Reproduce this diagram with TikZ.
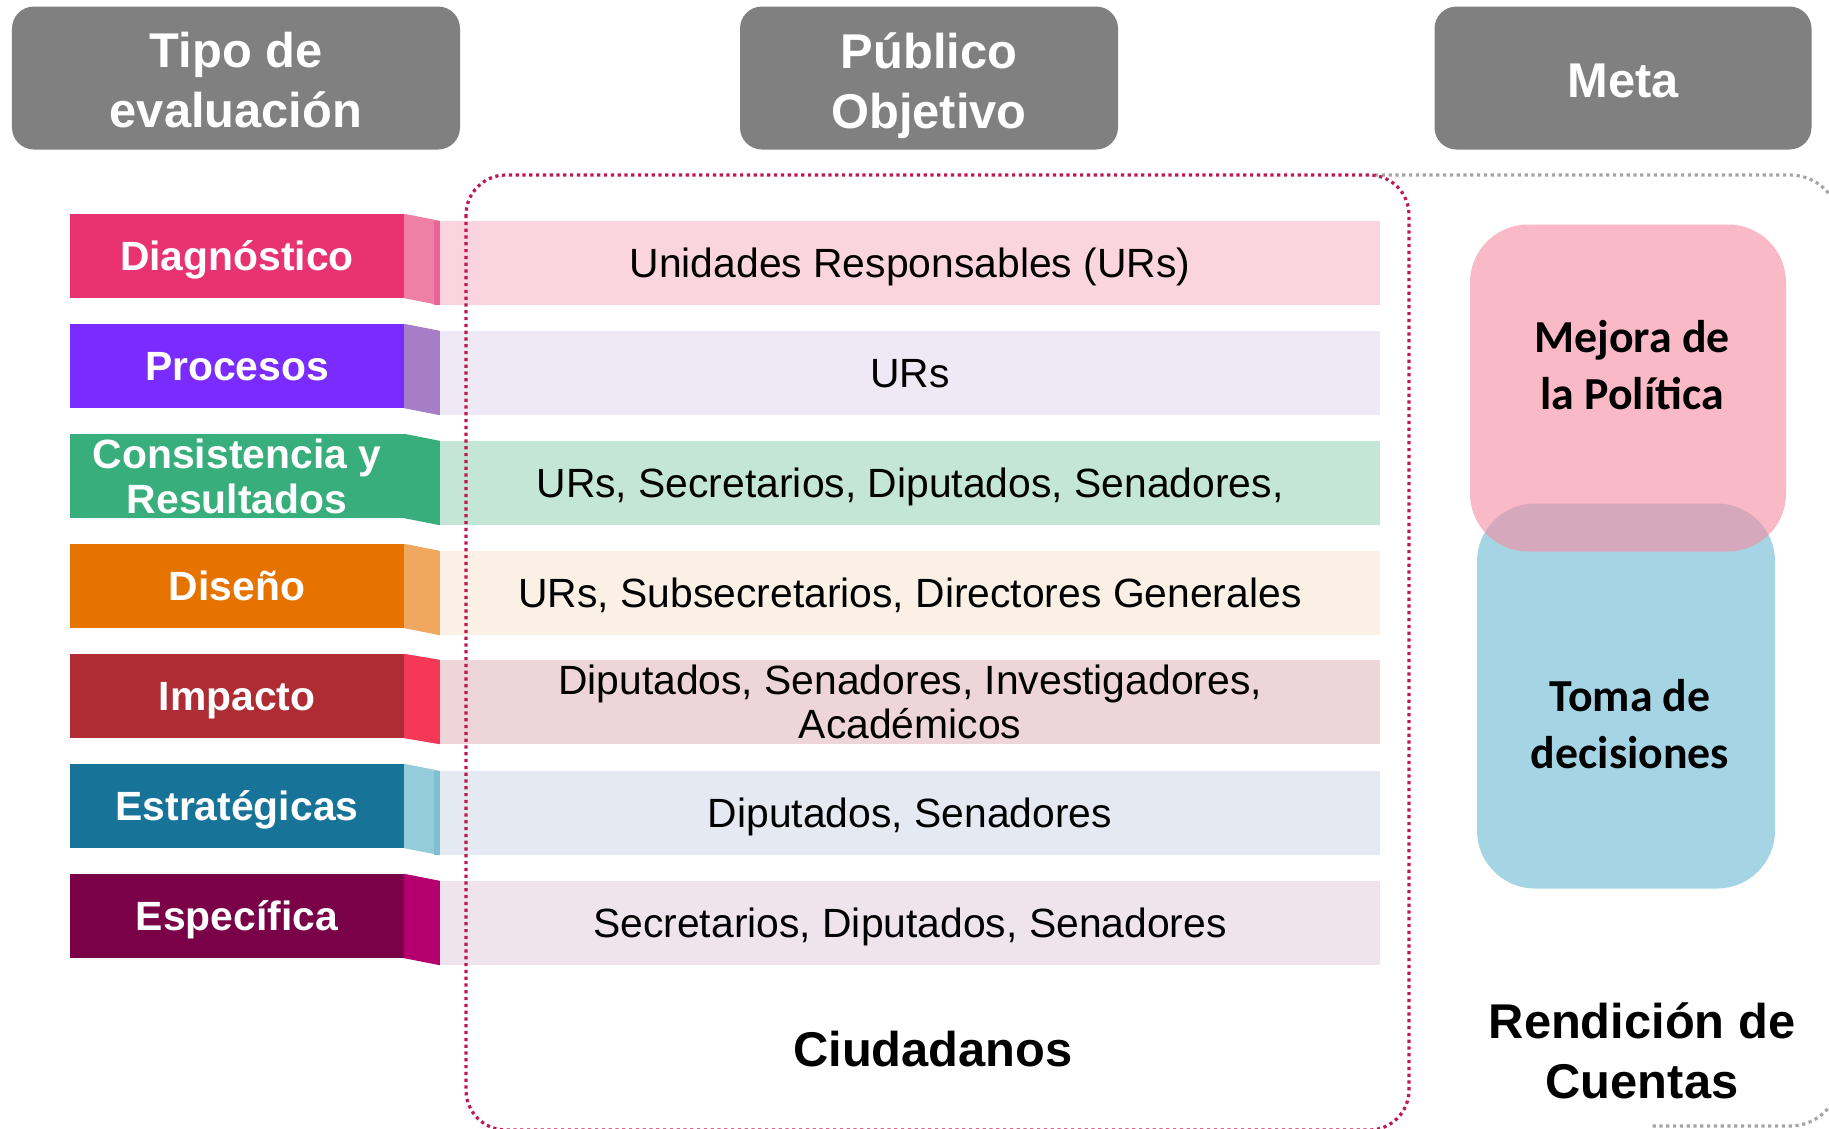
\documentclass[tikz,border=0pt]{standalone}
\usepackage{fontspec}
\setmainfont{Liberation Sans}
\newfontfamily\calib{Carlito}
\usetikzlibrary{calc}
\definecolor{hdrgray}{RGB}{128,128,128}
\definecolor{dotred}{RGB}{192,24,78}
\definecolor{dotgray}{RGB}{165,165,165}
% label / fold / bar colours
\definecolor{l1}{RGB}{232,51,112}\definecolor{f1}{RGB}{238,128,166}\definecolor{b1}{RGB}{250,213,224}\definecolor{s1}{RGB}{232,100,150}
\definecolor{l2}{RGB}{122,44,255}\definecolor{f2}{RGB}{166,126,200}\definecolor{b2}{RGB}{239,233,245}
\definecolor{l3}{RGB}{56,174,124}\definecolor{f3}{RGB}{56,174,124}\definecolor{b3}{RGB}{196,230,214}
\definecolor{l4}{RGB}{230,114,0}\definecolor{f4}{RGB}{240,168,96}\definecolor{b4}{RGB}{250,240,229}
\definecolor{l5}{RGB}{176,44,52}\definecolor{f5}{RGB}{245,56,86}\definecolor{b5}{RGB}{238,213,217}
\definecolor{l6}{RGB}{24,115,152}\definecolor{f6}{RGB}{148,204,220}\definecolor{b6}{RGB}{228,233,242}\definecolor{s6}{RGB}{128,190,210}
\definecolor{l7}{RGB}{122,0,72}\definecolor{f7}{RGB}{180,0,110}\definecolor{b7}{RGB}{240,228,236}
\definecolor{pinkM}{RGB}{247,138,160}
\definecolor{blueM}{RGB}{165,213,228}
\begin{document}
\begin{tikzpicture}[x=1bp,y=-1bp,
  hdrbox/.style={fill=hdrgray, rounded corners=22bp, minimum height=143bp, inner sep=0},
  hdrtxt/.style={inner sep=0, text=white, font=\bfseries\fontsize{49}{60}\selectfont, align=center},
  lab/.style={minimum width=334bp, minimum height=84bp, inner sep=0, text=white,
    font=\bfseries\fontsize{41}{45}\selectfont, align=center},
  oneline/.style={text height=29.5bp, text depth=0.5bp},
  bar/.style={minimum width=940bp, minimum height=84bp, inner sep=0,
    font=\fontsize{41}{44}\selectfont, align=center},
  bigtxt/.style={inner sep=0, font=\bfseries\fontsize{49}{60}\selectfont, align=center},
  metatxt/.style={inner sep=0, font=\calib\bfseries\fontsize{46}{57}\selectfont, align=center},
  reddots/.style={draw=dotred, line width=3.2bp, dash pattern=on 3.2bp off 3.6bp},
  graydots/.style={draw=dotgray, line width=3.2bp, dash pattern=on 3.2bp off 3.6bp}
]
\clip (0,0) rectangle (1829,1128);
\useasboundingbox (0,0) rectangle (1829,1128);

% headers
\node[hdrbox, minimum width=448bp] (h1) at (236,78) {};
\node[hdrbox, minimum width=378bp] (h2) at (929,78) {};
\node[hdrbox, minimum width=377bp] (h3) at (1623,78) {};
\node[hdrtxt] (h1t) at (236,80) {Tipo de\\evaluación};
\node[hdrtxt] (h2t) at (929,86) {Público\\Objetivo};
\node[hdrtxt] (h3t) at (1623,80.5) {Meta};

% gray dotted frame (Meta column)
\draw[graydots, rounded corners=50bp] (1375,175) -- (1840,175) -- (1840,1126) -- (1650,1126);

% labels and bars
\node[lab, oneline, fill=l1] (la1) at (237,256) {Diagnóstico};
\node[lab, oneline, fill=l2] (la2) at (237,366) {Procesos};
\node[lab, fill=l3] (la3) at (237,476) {Consistencia y\\Resultados};
\node[lab, oneline, fill=l4] (la4) at (237,586) {Diseño};
\node[lab, oneline, fill=l5] (la5) at (237,696) {Impacto};
\node[lab, oneline, fill=l6] (la6) at (237,806) {Estratégicas};
\node[lab, oneline, fill=l7] (la7) at (237,916) {Específica};

\node[bar, oneline, fill=b1] (ba1) at (910,263) {Unidades Responsables (URs)};
\node[bar, oneline, fill=b2] (ba2) at (910,373) {URs};
\node[bar, oneline, fill=b3] (ba3) at (910,483) {URs, Secretarios, Diputados, Senadores,};
\node[bar, oneline, fill=b4] (ba4) at (910,593) {URs, Subsecretarios, Directores Generales};
\node[bar, fill=b5] (ba5) at (910,702) {Diputados, Senadores, Investigadores,\\Académicos};
\node[bar, oneline, fill=b6] (ba6) at (910,813) {Diputados, Senadores};
\node[bar, oneline, fill=b7] (ba7) at (910,923) {Secretarios, Diputados, Senadores};

% folds
\foreach \i in {1,...,7}{
  \fill[f\i] (la\i.north east) -- (ba\i.north west) -- (ba\i.south west) -- (la\i.south east) -- cycle;
}
\fill[s1] ($(ba1.north west)+(-6,0)$) rectangle (ba1.south west);
\fill[s6] ($(ba6.north west)+(-6,0)$) rectangle (ba6.south west);

% red dotted frame (Publico objetivo)
\draw[reddots, rounded corners=40bp] (466,175) rectangle (1409,1130);

\node[bigtxt] (ciud) at (933,1049) {Ciudadanos};

% Meta blobs
\node[fill=blueM, rounded corners=58bp, minimum width=298bp, minimum height=385bp, inner sep=0] (toma) at (1626,696) {};
\node[fill=pinkM, fill opacity=0.6, rounded corners=58bp, minimum width=316bp, minimum height=327bp, inner sep=0] (mejora) at (1628,388) {};
\node[metatxt] (mejoratxt) at (1632,365) {Mejora de\\la Política};
\node[metatxt] (tomatxt) at (1630,724) {Toma de\\decisiones};

\node[bigtxt] (rend) at (1642,1051) {Rendición de\\Cuentas};
\end{tikzpicture}
\end{document}
